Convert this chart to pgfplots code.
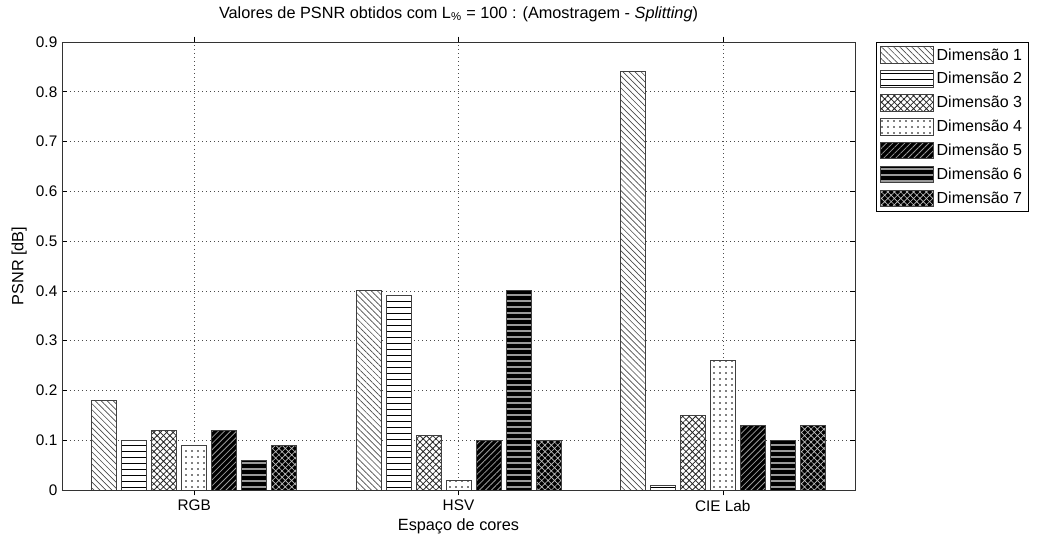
\documentclass[border=0pt]{standalone}
\usepackage{pgfplots}
\pgfplotsset{compat=1.18}
\usepackage{fontspec}
\setmainfont{Liberation Sans}
\usetikzlibrary{patterns,patterns.meta}
\begin{document}
\begin{tikzpicture}
\path[use as bounding box] (-46.5pt,-33.75pt) rectangle (732pt,367.5pt);
\begin{axis}[
  scale only axis,
  width=594.75pt, height=336pt,
  xmin=0.5, xmax=3.5, ymin=0, ymax=0.9,
  xtick={1,2,3}, xticklabels={RGB,HSV,CIE Lab},
  ytick={0,0.1,0.2,0.3,0.4,0.5,0.6,0.7,0.8,0.9},
  yticklabel style={/pgf/number format/fixed},
  /pgf/number format/assume math mode=true,
  tick align=inside, major tick length=4pt,
  tick style={black, line width=0.5pt},
  xmajorgrids, ymajorgrids,
  grid style={black!70, line width=0.5pt, dash pattern=on 0.6pt off 2.4pt},
  axis line style={black!80, line width=0.7pt},
  ybar=3.75pt, bar width=18.75pt,
  font=\fontsize{12.2pt}{14pt}\selectfont,
  tick label style={font=\fontsize{11.5pt}{13.5pt}\selectfont},
  title={Valores de PSNR obtidos com L\textsubscript{\%} = 100 : (Amostragem - \textit{Splitting})},
  title style={yshift=5.5pt},
  xlabel={Espaço de cores},
  ylabel={PSNR [dB]},
  xlabel style={yshift=1.5pt},
  ylabel style={yshift=0pt},
  legend style={at={(1.0265,1)}, anchor=north west, draw=black, line width=0.6pt,
    font=\fontsize{12pt}{14pt}\selectfont, row sep=3.7pt, inner sep=2.5pt,
    cells={anchor=west}},
  legend image code/.code={\draw[#1] (0pt,-6.2pt) rectangle (40pt,6.2pt);},
  every axis plot/.append style={draw=black!75, line width=0.7pt},
]
\addplot[fill=white, postaction={pattern={Lines[angle=-45,distance=3.2pt,line width=0.5pt]}, pattern color=black!70}] coordinates {(1,0.18) (2,0.40) (3,0.84)};
\addplot[fill=white, postaction={pattern={Lines[angle=0,distance=4.5pt,line width=0.7pt]}, pattern color=black}] coordinates {(1,0.10) (2,0.39) (3,0.01)};
\addplot[fill=white, postaction={pattern={Hatch[angle=45,distance=3.4pt,line width=0.6pt]}, pattern color=black!85}] coordinates {(1,0.12) (2,0.11) (3,0.15)};
\addplot[fill=white, postaction={pattern={Dots[distance=4.5pt,radius=0.65pt]}, pattern color=black}] coordinates {(1,0.09) (2,0.02) (3,0.26)};
\addplot[fill=black, postaction={pattern={Lines[angle=45,distance=3.2pt,line width=0.6pt]}, pattern color=black!40}] coordinates {(1,0.12) (2,0.10) (3,0.13)};
\addplot[fill=black, postaction={pattern={Lines[angle=0,distance=4.5pt,line width=0.8pt]}, pattern color=black!40}] coordinates {(1,0.06) (2,0.40) (3,0.10)};
\addplot[fill=black, postaction={pattern={Hatch[angle=45,distance=3.4pt,line width=0.5pt]}, pattern color=black!25}] coordinates {(1,0.09) (2,0.10) (3,0.13)};
\legend{Dimensão 1,Dimensão 2,Dimensão 3,Dimensão 4,Dimensão 5,Dimensão 6,Dimensão 7}
\end{axis}
\end{tikzpicture}
\end{document}
